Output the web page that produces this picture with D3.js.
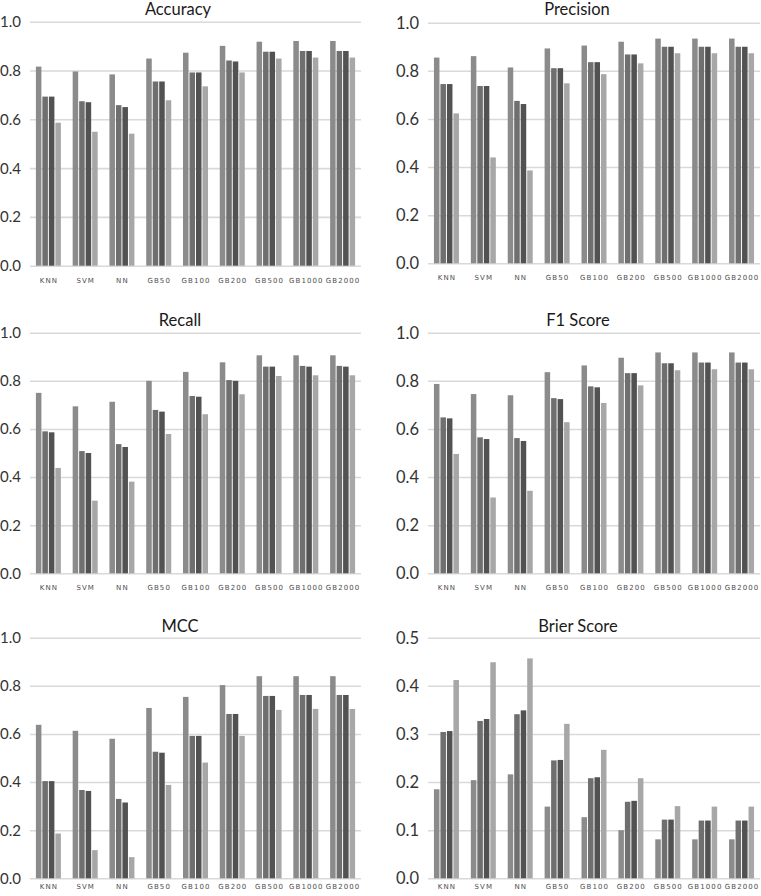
<!DOCTYPE html>
<html>
<head>
<meta charset="utf-8">
<script src="https://cdn.jsdelivr.net/npm/d3@7"></script>
<style>
body{margin:0;background:#fff;}
svg{display:block;}
.grid line{stroke:#d9d9d9;stroke-width:1.6;}
.grid path{display:none;}
</style>
</head>
<body>
<div id="chart"></div>
<script>
const categories=["KNN","SVM","NN","GB50","GB100","GB200","GB500","GB1000","GB2000"];
const barColors=["#8b8b8b","#6f6f6f","#525252","#a7a7a7"];

// one row per category, 4 bars each
const accuracy=[
[0.816,0.693,0.693,0.586],[0.796,0.674,0.670,0.549],[0.784,0.658,0.650,0.541],
[0.849,0.755,0.755,0.678],[0.873,0.792,0.792,0.735],[0.901,0.841,0.837,0.792],
[0.918,0.877,0.877,0.849],[0.921,0.880,0.880,0.853],[0.921,0.880,0.880,0.853]];
const precision=[
[0.855,0.745,0.745,0.623],[0.861,0.737,0.737,0.440],[0.814,0.675,0.662,0.386],
[0.893,0.811,0.811,0.748],[0.905,0.836,0.836,0.786],[0.921,0.868,0.868,0.831],
[0.934,0.900,0.900,0.873],[0.934,0.900,0.900,0.873],[0.934,0.900,0.900,0.873]];
const recall=[
[0.750,0.590,0.586,0.438],[0.694,0.508,0.500,0.302],[0.713,0.537,0.525,0.381],
[0.800,0.679,0.672,0.579],[0.837,0.737,0.734,0.661],[0.877,0.803,0.800,0.744],
[0.906,0.859,0.859,0.820],[0.906,0.862,0.859,0.823],[0.906,0.862,0.859,0.823]];
const f1score=[
[0.787,0.648,0.644,0.496],[0.745,0.565,0.558,0.315],[0.740,0.562,0.550,0.343],
[0.836,0.728,0.724,0.628],[0.864,0.777,0.773,0.708],[0.896,0.832,0.832,0.781],
[0.918,0.873,0.873,0.844],[0.918,0.876,0.876,0.848],[0.918,0.876,0.876,0.848]];
const mcc=[
[0.638,0.404,0.404,0.186],[0.613,0.367,0.363,0.117],[0.580,0.330,0.315,0.088],
[0.708,0.526,0.522,0.388],[0.754,0.592,0.592,0.481],[0.803,0.683,0.683,0.592],
[0.840,0.758,0.758,0.700],[0.840,0.762,0.762,0.704],[0.840,0.762,0.762,0.704]];
const brier=[
[0.185,0.304,0.306,0.412],[0.204,0.327,0.331,0.449],[0.216,0.341,0.349,0.457],
[0.149,0.245,0.246,0.321],[0.127,0.208,0.210,0.267],[0.100,0.159,0.161,0.208],
[0.081,0.122,0.122,0.150],[0.081,0.120,0.120,0.149],[0.081,0.120,0.120,0.149]];

const ticks1=[0,0.2,0.4,0.6,0.8,1.0];
const ticksBrier=[0,0.1,0.2,0.3,0.4,0.5];

const panels=[
{title:"Accuracy",data:accuracy,max:1,ticks:ticks1,x0:30,x1:361,yTop:21.7,yBot:265.7,tx:178,ty:15,ly:281,fs:15},
{title:"Precision",data:precision,max:1,ticks:ticks1,x0:428,x1:760,yTop:22.7,yBot:263.3,tx:577,ty:15,ly:278,fs:16.5},
{title:"Recall",data:recall,max:1,ticks:ticks1,x0:30,x1:361,yTop:332.7,yBot:573.3,tx:180,ty:326,ly:588,fs:15},
{title:"F1 Score",data:f1score,max:1,ticks:ticks1,x0:428,x1:760,yTop:332.7,yBot:573.3,tx:578,ty:326,ly:588,fs:16.5},
{title:"MCC",data:mcc,max:1,ticks:ticks1,x0:30,x1:361,yTop:637.7,yBot:878.3,tx:180,ty:632,ly:887,fs:15},
{title:"Brier Score",data:brier,max:0.5,ticks:ticksBrier,x0:428,x1:760,yTop:637.7,yBot:878.3,tx:578,ty:632,ly:887,fs:16.5}
];

const svg=d3.select("#chart").append("svg").attr("width",761).attr("height",896);

panels.forEach(p=>{
  const g=svg.append("g");
  const x=d3.scaleBand().domain(categories).range([p.x0,p.x1]);
  const y=d3.scaleLinear().domain([0,p.max]).range([p.yBot,p.yTop]);
  const inner=d3.scaleBand().domain([0,1,2,3]).range([0,25]).paddingInner(0.15);
  const off=(x.bandwidth()-25)/2;

  g.append("g").attr("class","grid")
    .attr("transform",`translate(${p.x0},0)`)
    .call(d3.axisLeft(y).tickValues(p.ticks).tickSize(-(p.x1-p.x0)).tickFormat(""));

  g.selectAll(".ytick").data(p.ticks).enter().append("text")
    .attr("x",p.x0-9).attr("y",d=>y(d))
    .attr("dy","0.36em")
    .attr("text-anchor","end")
    .attr("font-family","Lato, 'Open Sans', sans-serif")
    .attr("font-size",p.fs)
    .attr("fill","#333")
    .text(d=>d3.format(".1f")(d));

  const grp=g.selectAll(".grp").data(p.data).enter().append("g")
    .attr("transform",(d,i)=>`translate(${x(categories[i])+off},0)`);
  grp.selectAll("rect").data(d=>d).enter().append("rect")
    .attr("x",(d,j)=>inner(j))
    .attr("width",inner.bandwidth())
    .attr("y",d=>y(d))
    .attr("height",d=>y(0)-y(d))
    .attr("fill",(d,j)=>barColors[j]);

  g.selectAll(".cat").data(categories).enter().append("text")
    .attr("x",d=>x(d)+x.bandwidth()/2+0.5)
    .attr("y",p.ly)
    .attr("dy","0.35em")
    .attr("text-anchor","middle")
    .attr("font-family","'DejaVu Sans', sans-serif")
    .attr("font-size",7)
    .attr("letter-spacing",1.1)
    .attr("fill","#4d4d4d")
    .text(d=>d);

  g.append("text")
    .attr("x",p.tx).attr("y",p.ty)
    .attr("text-anchor","middle")
    .attr("font-family","Lato, 'Open Sans', sans-serif")
    .attr("font-size",16.5)
    .attr("fill","#1a1a1a")
    .text(p.title);
});
</script>
</body>
</html>
